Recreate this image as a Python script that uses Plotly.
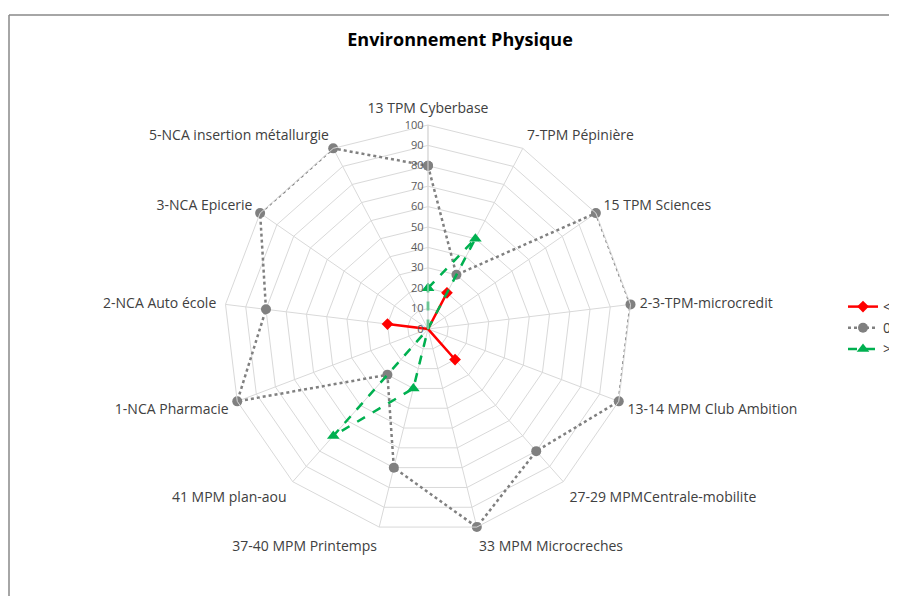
import plotly.graph_objects as go

categories = [
    "13 TPM Cyberbase", "7-TPM Pépinière", "15 TPM Sciences", "2-3-TPM-microcredit",
    "13-14 MPM Club Ambition", "27-29 MPMCentrale-mobilite", "33 MPM Microcreches",
    "37-40 MPM Printemps", "41 MPM plan-aou", "1-NCA Pharmacie", "2-NCA Auto école",
    "3-NCA Epicerie", "5-NCA insertion métallurgie",
]
neg_values = [0, 20, 0, 0, 0, 20, 0, 0, 0, 0, 20, 0, 0]
zero_values = [80, 30, 100, 100, 100, 80, 100, 70, 30, 100, 80, 100, 100]
pos_values = [20, 50, 0, 0, 0, 0, 0, 30, 70, 0, 0, 0, 0]
series_names = ["<0", "0", ">0"]
radial_ticks = list(range(0, 101, 10))

def closed(v):
    return v + v[:1]

fig = go.Figure()
fig.add_trace(go.Scatterpolar(
    r=closed(neg_values), theta=closed(categories), name=series_names[0],
    mode="lines+markers",
    line=dict(color="#FF0000", width=2.5),
    marker=dict(symbol="diamond", size=9, color="#FF0000"),
))
fig.add_trace(go.Scatterpolar(
    r=closed(zero_values), theta=closed(categories), name=series_names[1],
    mode="lines+markers",
    line=dict(color="#808080", width=2.5, dash="dot"),
    marker=dict(symbol="circle", size=10, color="#808080"),
))
fig.add_trace(go.Scatterpolar(
    r=closed(pos_values), theta=closed(categories), name=series_names[2],
    mode="lines+markers",
    line=dict(color="#00B050", width=2.5, dash="dash"),
    marker=dict(symbol="triangle-up", size=11, color="#00B050"),
))

# page body has an ~8px offset; positions below are in page pixels
OFF = 8
W, H = 940, 596
def px(x):
    return (x - OFF) / W
def py(y):
    return 1 - (y - OFF) / H

cx, cy, R = 428, 329, 204
fig.update_layout(
    width=W, height=H,
    margin=dict(l=0, r=0, t=0, b=0),
    paper_bgcolor="white",
    plot_bgcolor="white",
    font=dict(family="Open Sans", size=14, color="#404040"),
    title=dict(text="<b>Environnement Physique</b>", x=px(460), xanchor="center",
               y=py(40), yanchor="middle",
               font=dict(family="Open Sans", size=18, color="#000000")),
    polar=dict(
        domain=dict(x=[px(cx - R), px(cx + R)],
                    y=[py(cy + R), py(cy - R)]),
        gridshape="linear",
        bgcolor="white",
        angularaxis=dict(
            rotation=90, direction="clockwise",
            showline=True, linecolor="#D9D9D9", linewidth=1,
            gridcolor="#D9D9D9", gridwidth=1,
            ticks="outside", ticklen=6, tickcolor="rgba(0,0,0,0)",
            tickfont=dict(family="Open Sans", size=14, color="#404040"),
        ),
        radialaxis=dict(
            range=[0, 100], tickvals=radial_ticks, angle=90,
            side="counterclockwise", tickangle=90,
            showline=True, linecolor="#D9D9D9", linewidth=1,
            gridcolor="#D9D9D9", gridwidth=1,
            ticks="", tickfont=dict(family="Open Sans", size=11, color="#595959"),
        ),
    ),
    legend=dict(x=px(843), xanchor="left", y=py(291), yanchor="top",
                font=dict(family="Open Sans", size=14, color="#404040"),
                bgcolor="rgba(0,0,0,0)"),
    showlegend=True,
)
fig.add_shape(type="line", xref="paper", yref="paper",
              x0=px(9), x1=1.0, y0=py(15), y1=py(15),
              line=dict(color="#898989", width=1.5))
fig.add_shape(type="line", xref="paper", yref="paper",
              x0=px(9), x1=px(9), y0=py(15), y1=0,
              line=dict(color="#898989", width=1.5))
fig.write_html("out.html")
